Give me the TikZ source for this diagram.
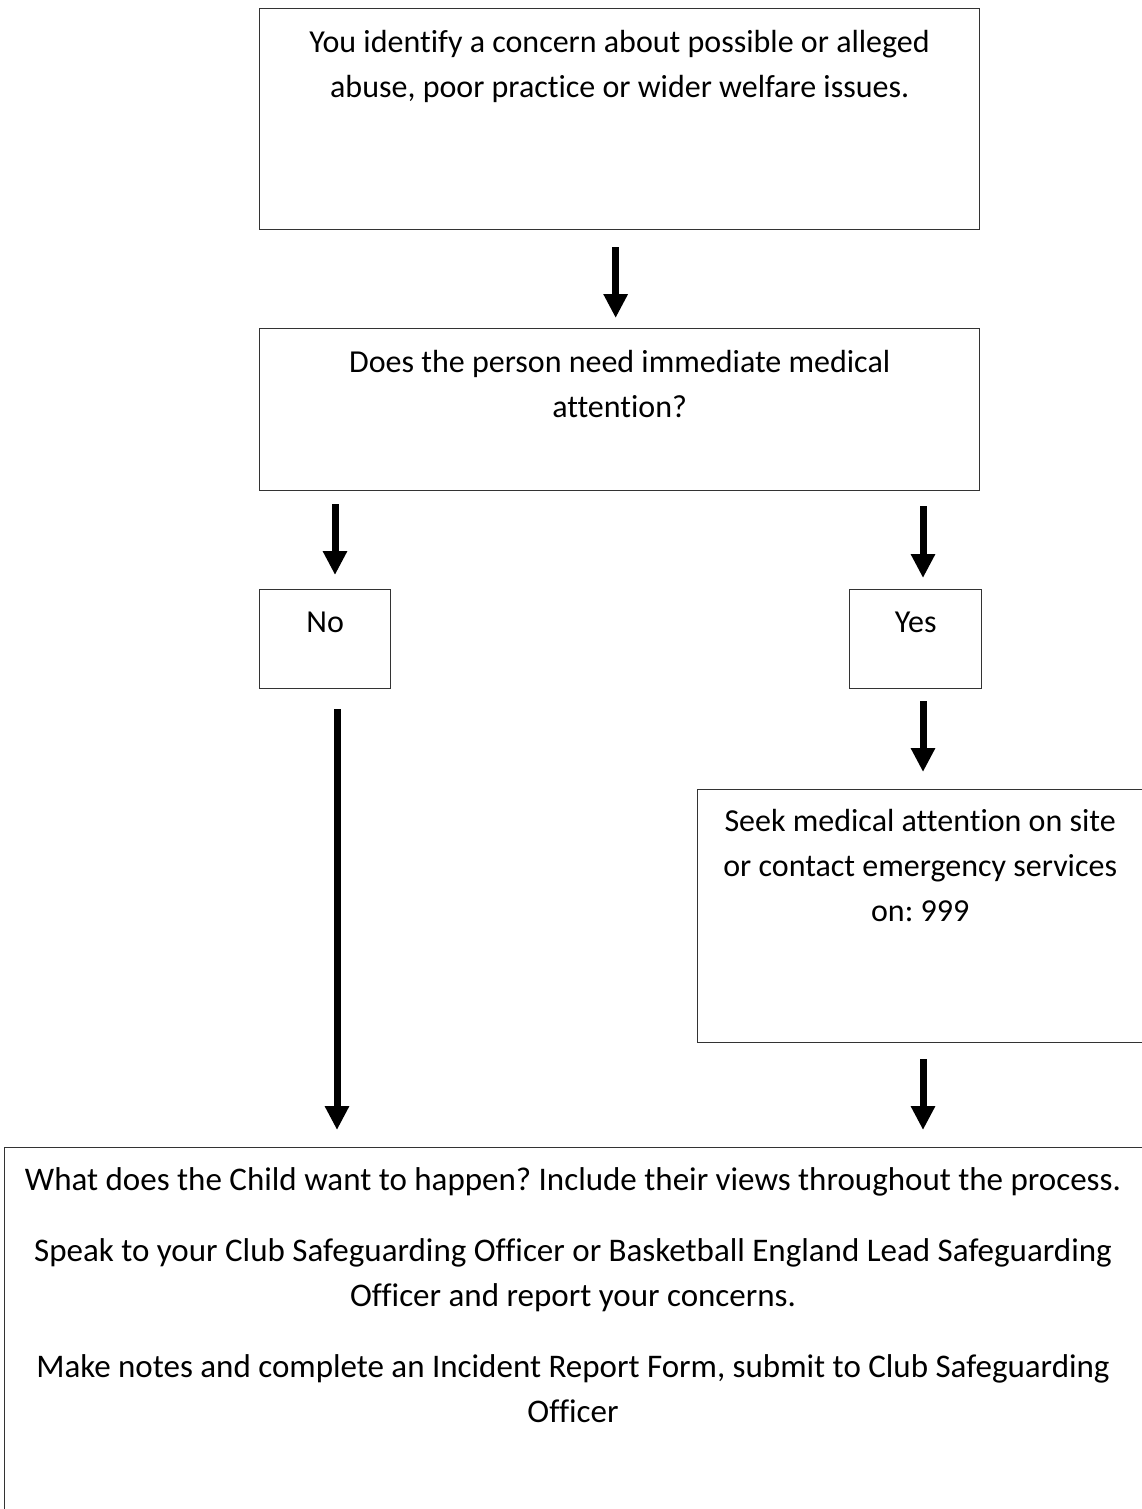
\documentclass[tikz,border=0pt]{standalone}
\usepackage{fontspec}
\setmainfont{Carlito}[Ligatures=NoCommon]
\usetikzlibrary{arrows.meta}
\frenchspacing
\tikzset{
  box/.style={draw=black!80, line width=1.3pt, anchor=north west, inner sep=0pt},
  txt/.style={anchor=north, align=center, inner sep=0pt, font=\fontsize{32}{45}\selectfont\frenchspacing},
  arr/.style={line width=7pt, -{Triangle[width=23pt,length=24pt]}},
}
\begin{document}
\begin{tikzpicture}[x=1pt,y=-1pt]
\useasboundingbox (0,0) rectangle (1141,1509);
% boxes
\node[box, minimum width=720pt, minimum height=221pt] (b1) at (259,8) {};
\node[box, minimum width=720pt, minimum height=162pt] (b2) at (259,328) {};
\node[box, minimum width=131pt, minimum height=99pt] (no) at (259,589) {};
\node[box, minimum width=132pt, minimum height=99pt] (yes) at (849,589) {};
\node[box, minimum width=455pt, minimum height=253pt] (seek) at (697,789) {};
\node[box, minimum width=1150pt, minimum height=380pt] (fin) at (4,1147) {};
% texts
\node[txt] (t1) at ([yshift=-12.5pt]b1.north) {\strut You identify a concern about possible or alleged\\abuse, poor practice or wider welfare issues.};
\node[txt] (t2) at ([yshift=-13pt]b2.north) {\strut Does the person need immediate medical\\attention?};
\node[txt] (tno) at ([yshift=-12pt]no.north) {\strut No};
\node[txt] (tyes) at ([yshift=-12pt]yes.north) {\strut Yes};
\node[txt] (tseek) at ([xshift=-5pt,yshift=-11pt]seek.north) {\strut Seek medical attention on site\\or contact emergency services\\on: 999};
\node[txt, font=\fontsize{33}{45}\selectfont\frenchspacing] (tfin) at ([yshift=-12pt]fin.north -| 573,0) {\strut What does the Child want to happen? Include their views throughout the process.\\[26pt]
Speak to your Club Safeguarding Officer or Basketball England Lead Safeguarding\\Officer and report your concerns.\\[26pt]
Make notes and complete an Incident Report Form, submit to Club Safeguarding\\Officer};
% arrows
\draw[arr] ([xshift=-4pt,yshift=-17pt]b1.south) -- ([xshift=-4pt,yshift=10pt]b2.north);
\draw[arr] ([yshift=-13pt]b2.south -| 335,0) -- ([yshift=14pt]no.north -| 335,0);
\draw[arr] ([yshift=-15pt]b2.south -| 923,0) -- ([yshift=11pt]yes.north -| 923,0);
\draw[arr] ([yshift=-12pt]yes.south -| 923,0) -- ([yshift=17pt]seek.north -| 923,0);
\draw[arr] ([yshift=-20pt]no.south -| 337,0) -- ([yshift=17pt]fin.north -| 337,0);
\draw[arr] ([yshift=-16pt]seek.south -| 923,0) -- ([yshift=17pt]fin.north -| 923,0);
\end{tikzpicture}
\end{document}
